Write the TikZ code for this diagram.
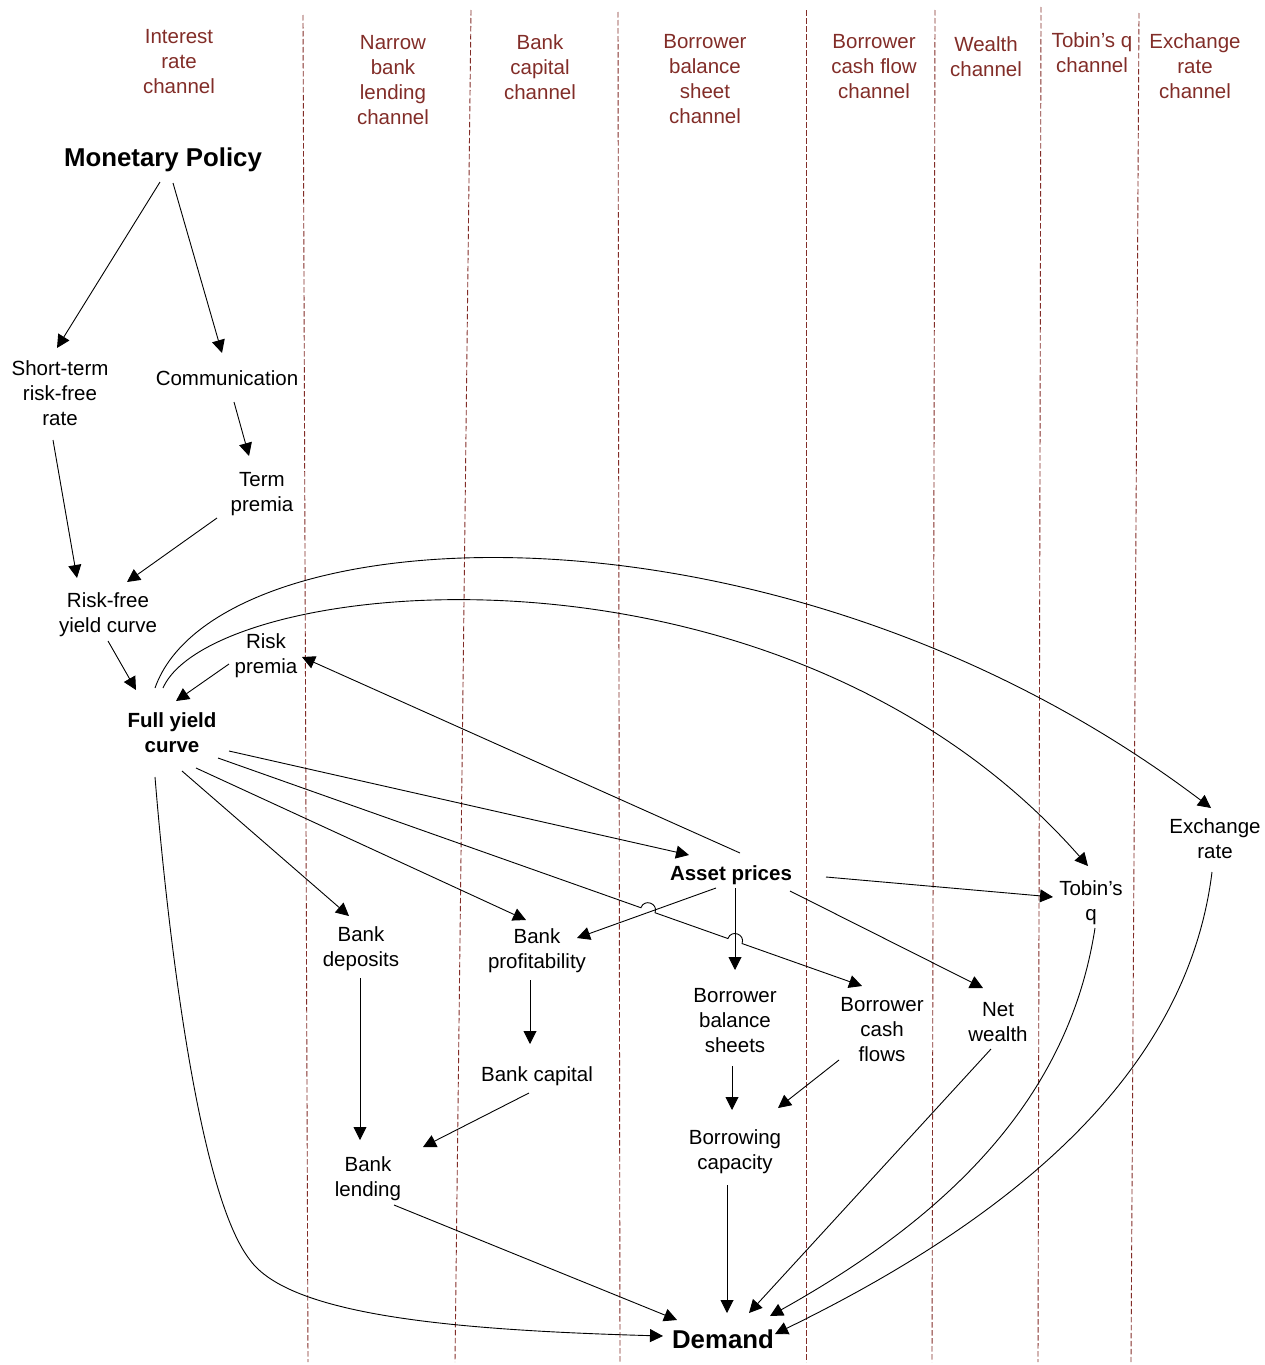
\documentclass[tikz,border=0pt]{standalone}
\usepackage{fontspec}
\setmainfont{Liberation Sans}
\usetikzlibrary{arrows.meta,calc}
\definecolor{chred}{RGB}{130,45,40}
\newcommand{\sttxt}[1]{\strut #1\strut}
\begin{document}
\begin{tikzpicture}[x=1pt,y=-1pt,
  lbl/.style={font=\fontsize{20.5}{25}\selectfont, align=center, inner sep=0pt},
  boldlbl/.style={lbl, font=\fontsize{20.5}{25}\selectfont\bfseries},
  biglbl/.style={inner sep=0pt, font=\fontsize{25.8}{31}\selectfont\bfseries},
  chan/.style={lbl, text=chred},
  sepline/.style={draw=chred, line width=0.9pt, dash pattern=on 5.5pt off 2.5pt},
  arr/.style={draw, line width=0.9pt, -{Triangle[length=13pt,width=13pt]}}]
\useasboundingbox (0,0) rectangle (1265,1365);

% channel separators
\draw[sepline] (303,15) -- (308,1362);
\draw[sepline] (471,10) -- (455,1362);
\draw[sepline] (618,12) -- (620,1362);
\draw[sepline] (806,10) -- (806,1362);
\draw[sepline] (935,10) -- (932,1362);
\draw[sepline] (1041,7) -- (1038,1362);
\draw[sepline] (1139,13) -- (1131,1362);

% channel headings
\node[chan] (h1) at (179,63) {\sttxt{Interest\\rate\\channel}};
\node[chan] (h2) at (393,81.5) {\sttxt{Narrow\\bank\\lending\\channel}};
\node[chan] (h3) at (540,69) {\sttxt{Bank\\capital\\channel}};
\node[chan] (h4) at (705,80.5) {\sttxt{Borrower\\balance\\sheet\\channel}};
\node[chan] (h5) at (874,68) {\sttxt{Borrower\\cash flow\\channel}};
\node[chan] (h6) at (986,58.5) {\sttxt{Wealth\\channel}};
\node[chan] (h7) at (1092,54.5) {\sttxt{Tobin’s q\\channel}};
\node[chan] (h8) at (1195,68) {\sttxt{Exchange\\rate\\channel}};

% nodes
\node[biglbl] (mp) at (163,160) {Monetary Policy};
\node[lbl] (st) at (60,395) {\sttxt{Short-term\\risk-free\\rate}};
\node[lbl] (com) at (227,380) {\sttxt{Communication}};
\node[lbl] (tp) at (262,493.5) {\sttxt{Term\\premia}};
\node[lbl] (rf) at (108,614.5) {\sttxt{Risk-free\\yield curve}};
\node[lbl] (rp) at (266,655.5) {\sttxt{Risk\\premia}};
\node[boldlbl] (fyc) at (172,734.5) {\sttxt{Full yield\\curve}};
\node[boldlbl] (ap) at (731,875) {\sttxt{Asset prices}};
\node[lbl] (bd) at (361,948.5) {\sttxt{Bank\\deposits}};
\node[lbl] (bp) at (537,950.5) {\sttxt{Bank\\profitability}};
\node[lbl] (bbs) at (735,1022) {\sttxt{Borrower\\balance\\sheets}};
\node[lbl] (bcf) at (882,1031) {\sttxt{Borrower\\cash\\flows}};
\node[lbl] (nw) at (998,1023.5) {\sttxt{Net\\wealth}};
\node[lbl] (tq) at (1091,902.5) {\sttxt{Tobin’s\\q}};
\node[lbl] (er) at (1215,840.5) {\sttxt{Exchange\\rate}};
\node[lbl] (bc) at (537,1076) {\sttxt{Bank capital}};
\node[lbl] (bln) at (368,1178.5) {\sttxt{Bank\\lending}};
\node[lbl] (bcap) at (735,1151.5) {\sttxt{Borrowing\\capacity}};
\node[biglbl] (dem) at (723,1339) {Demand};

% connectors
\draw[arr] ($(mp)+(-3,22)$) -- ($(st)+(-3,-47)$);
\draw[arr] ($(mp)+(10,23)$) -- ($(com)+(-5,-27)$);
\draw[arr] ($(com)+(7,22)$) -- ($(tp)+(-13,-37.5)$);
\draw[arr] ($(st)+(-7,45)$) -- ($(rf)+(-31,-36.5)$);
\draw[arr] ($(tp)+(-45,24.5)$) -- ($(rf)+(19,-32.5)$);
\draw[arr] ($(rf)+(0,26.5)$) -- ($(fyc)+(-36,-44.5)$);
\draw[arr] ($(rp)+(-37,8.5)$) -- ($(fyc)+(4,-33.5)$);
\draw[arr] ($(ap)+(9,-22)$) -- ($(rp)+(36,1.5)$);
\draw[arr] ($(fyc)+(-17,-46.5)$) .. controls (217,512) and (780,482) .. ($(er)+(-4,-32.5)$);
\draw[arr] ($(fyc)+(-9,-46.5)$) .. controls (213,575) and (780,516) .. ($(tq)+(-3,-36.5)$);
\draw[arr] ($(fyc)+(57,16.5)$) -- ($(ap)+(-42,-20)$);
\draw[arr] ($(fyc)+(10,36.5)$) -- ($(bd)+(-12,-32.5)$);
\draw[arr] ($(fyc)+(24,33.5)$) -- ($(bp)+(-11,-30.5)$);
\coordinate (s14) at ($(fyc)+(46,23.5)$);
\coordinate (e14) at ($(bcf)+(-20,-45)$);
\draw[arr] (s14) -- ($(s14)!0.6567!(e14)$)
  .. controls ($(s14)!0.6567!(e14)+(3.34,-9.43)$) and ($(s14)!0.6787!(e14)+(3.34,-9.43)$) .. ($(s14)!0.6787!(e14)$)
  -- ($(s14)!0.7918!(e14)$)
  .. controls ($(s14)!0.7918!(e14)+(3.34,-9.43)$) and ($(s14)!0.8138!(e14)+(3.34,-9.43)$) .. ($(s14)!0.8138!(e14)$)
  -- (e14);
\draw[arr] ($(fyc)+(-17,42.5)$) .. controls (165,900) and (195,1190) .. (250,1260)
  .. controls (290,1315) and (450,1330) .. ($(dem)+(-60,-3)$);
\draw[arr] ($(ap)+(-15,13)$) -- ($(bp)+(40,-12.5)$);
\draw[arr] ($(ap)+(4,13)$) -- ($(bbs)+(0,-52)$);
\draw[arr] ($(ap)+(95,2)$) -- ($(tq)+(-38,-5.5)$);
\draw[arr] ($(ap)+(59,16)$) -- ($(nw)+(-15,-35.5)$);
\draw[arr] ($(bd)+(-1,29.5)$) -- ($(bln)+(-8,-38.5)$);
\draw[arr] ($(bp)+(-7,29.5)$) -- ($(bc)+(-7,-32)$);
\draw[arr] ($(bc)+(-8,17)$) -- ($(bln)+(55,-31.5)$);
\draw[arr] ($(bbs)+(-3,44)$) -- ($(bcap)+(-3,-41.5)$);
\draw[arr] ($(bcf)+(-43,29)$) -- ($(bcap)+(43,-43.5)$);
\draw[arr] ($(bln)+(26,26.5)$) -- ($(dem)+(-46,-19)$);
\draw[arr] ($(bcap)+(-8,33.5)$) -- ($(dem)+(4,-26)$);
\draw[arr] ($(nw)+(-7,25.5)$) -- ($(dem)+(26,-26)$);
\draw[arr] ($(tq)+(4,25.5)$) .. controls (1070,1090) and (960,1210) .. ($(dem)+(47,-23)$);
\draw[arr] ($(er)+(-3,31.5)$) .. controls (1190,1050) and (1050,1200) .. ($(dem)+(52,-5)$);
\end{tikzpicture}
\end{document}
